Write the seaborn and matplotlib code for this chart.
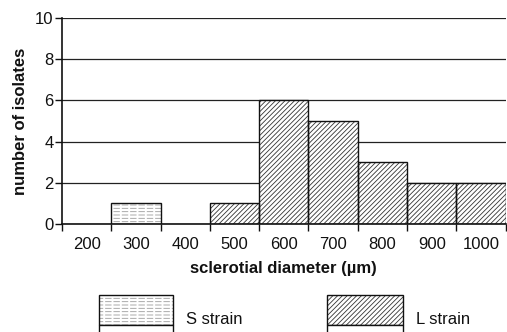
import matplotlib
matplotlib.use("Agg")
import matplotlib.pyplot as plt
from matplotlib.patches import Rectangle
import seaborn as sns
import pandas as pd

# Histogram of sclerotial diameters by strain
bins = ["200", "300", "400", "500", "600", "700", "800", "900", "1000"]
s_strain = [0, 1, 0, 0, 0, 0, 0, 0, 0]
l_strain = [0, 0, 0, 1, 6, 5, 3, 2, 2]

sns.set_theme(style="white")
plt.rcParams["font.family"] = ["Liberation Sans", "DejaVu Sans"]
plt.rcParams["hatch.linewidth"] = 0.6

df = pd.DataFrame({
    "diameter": bins * 2,
    "count": s_strain + l_strain,
    "strain": ["S strain"] * len(bins) + ["L strain"] * len(bins),
})

FS = 12
INK = "#111111"
hatches = {"S strain": "-----", "L strain": "///////"}
hatch_colors = {"S strain": "#9c9c9c", "L strain": "#333333"}
DASH_BREAK = "||"   # white strokes that cut the S lines into dashes
BREAK_LW = 1.4


def set_hatch_lw(patch, lw):
    if hasattr(patch, "set_hatch_linewidth"):
        patch.set_hatch_linewidth(lw)
    else:
        patch._hatch_linewidth = lw


fig = plt.figure(figsize=(5.07, 3.32), dpi=100)
ax = fig.add_axes([0.1223, 0.3253, 0.875, 0.6205])

# grid behind the bars
ax.set_axisbelow(True)
ax.yaxis.grid(True, color="#222222", linewidth=0.9)

# hatched fill (hatch colour follows the edge colour)
sns.barplot(data=df, x="diameter", y="count", hue="strain", dodge=False,
            palette={"S strain": "white", "L strain": "white"},
            width=1.0, linewidth=0, legend=False, ax=ax)
n0 = len(ax.containers)
for container, name in zip(ax.containers, ["S strain", "L strain"]):
    for bar in container:
        if bar.get_height() > 0:
            bar.set_hatch(hatches[name])
            bar.set_edgecolor(hatch_colors[name])
        else:
            bar.set_visible(False)

# break the S strain lines into dashes
sns.barplot(data=df[df["strain"] == "S strain"], x="diameter", y="count",
            color="white", fill=False, width=1.0, linewidth=0, ax=ax)
for container in ax.containers[n0:]:
    for bar in container:
        if bar.get_height() > 0:
            bar.set_hatch(DASH_BREAK)
            bar.set_edgecolor("white")
            set_hatch_lw(bar, BREAK_LW)
        else:
            bar.set_visible(False)
n1 = len(ax.containers)

# black outlines on top
sns.barplot(data=df, x="diameter", y="count", hue="strain", dodge=False,
            palette={"S strain": INK, "L strain": INK}, fill=False,
            width=1.0, linewidth=1.0, legend=False, ax=ax)
for container in ax.containers[n1:]:
    for bar in container:
        bar.set_edgecolor(INK)
        if bar.get_height() <= 0:
            bar.set_visible(False)

ax.set_xlim(-0.5, len(bins) - 0.5)
ax.set_ylim(0, 10)
ax.set_yticks([0, 2, 4, 6, 8, 10])
ax.set_xticks(range(len(bins)))
ax.set_xticklabels(bins)
ax.set_xticks([i - 0.5 for i in range(len(bins) + 1)], minor=True)
ax.tick_params(axis="x", which="major", length=0, pad=9, labelsize=FS, colors=INK)
ax.tick_params(axis="x", which="minor", length=5, width=1.0, color=INK, direction="out", bottom=True)
ax.tick_params(axis="y", length=5, width=1.0, color=INK, direction="out", left=True,
               labelsize=FS, pad=1, labelcolor=INK)

for side in ["top", "right"]:
    ax.spines[side].set_visible(False)
for side in ["left", "bottom"]:
    ax.spines[side].set_color(INK)
    ax.spines[side].set_linewidth(1.2)

ax.set_xlabel("sclerotial diameter (\u00b5m)", fontsize=FS, fontweight="bold", labelpad=7, color=INK)
ax.set_ylabel("number of isolates", fontsize=FS, fontweight="bold", labelpad=5, color=INK)

# legend swatches below the axis
W, H = 507.0, 332.0
def swatch(x0, x1, name):
    box = ((x0 / W, 1 - 325 / H), (x1 - x0) / W, 30 / H)
    fig.patches.append(Rectangle(*box, transform=fig.transFigure, facecolor="white",
                                 edgecolor=hatch_colors[name], linewidth=0,
                                 hatch=hatches[name]))
    if name == "S strain":
        brk = Rectangle(*box, transform=fig.transFigure, fill=False,
                        edgecolor="white", linewidth=0, hatch=DASH_BREAK)
        set_hatch_lw(brk, BREAK_LW)
        fig.patches.append(brk)
    fig.patches.append(Rectangle(*box, transform=fig.transFigure, fill=False,
                                 edgecolor=INK, linewidth=1.0))
    fig.patches.append(Rectangle((x0 / W, 1 - 345 / H), (x1 - x0) / W, 20 / H,
                                 transform=fig.transFigure, facecolor="white",
                                 edgecolor=INK, linewidth=1.0))
    fig.text((x1 + 13) / W, 1 - 319 / H, name, fontsize=FS, va="center",
             ha="left", color=INK)

swatch(99, 173, "S strain")
swatch(327, 403, "L strain")

fig.savefig("out.png", dpi=100)
